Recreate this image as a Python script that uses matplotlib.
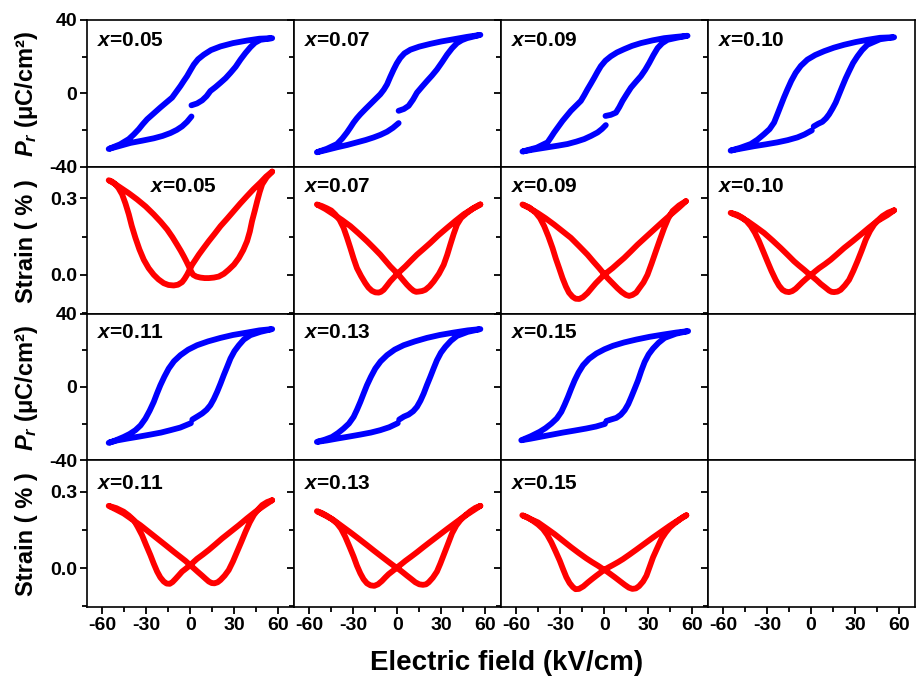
import matplotlib
matplotlib.use("Agg")
import matplotlib.pyplot as plt

plt.rcParams["font.family"] = ["Liberation Sans", "DejaVu Sans"]
plt.rcParams["font.weight"] = "bold"
plt.rcParams["axes.unicode_minus"] = False
plt.rcParams["mathtext.fontset"] = "custom"
plt.rcParams["mathtext.it"] = "Liberation Sans:italic:bold"
plt.rcParams["mathtext.rm"] = "Liberation Sans:bold"
plt.rcParams["mathtext.bf"] = "Liberation Sans:bold"

# compositions, in panel order
comps = ["0.05", "0.07", "0.09", "0.10", "0.11", "0.13", "0.15"]

# P-E loops (E in kV/cm, P in uC/cm2), traced from the break near E=0:
# rising branch -> +E tip -> falling branch -> -E tip -> back to E=0
pe_e_005 = [0.7, 4.5, 8.0, 11, 13.6, 17, 20.5, 24, 27.3, 30.8, 34.1, 37.5, 40.9, 44, 47.7, 55.7,
            47, 38.6, 29, 20.5, 14, 9.1, 5.2, 2.3, 0, -2.3, -4.6, -6.8, -9.7, -12.5, -16.5, -20.5, -25,
            -29.5, -32.5, -35.2, -38.5, -42.0, -48, -55.7,
            -48, -40.9, -33, -25.0, -19, -13.6, -9.3, -5.7, -2.3, 0.7]
pe_p_005 = [-6.5, -5.5, -3.8, -1.5, 1.3, 3.4, 5.8, 8.3, 11.2, 14.5, 18.4, 22.0, 25.2, 27.6, 29.2, 30.1,
            29.8, 28.8, 27.4, 25.6, 23.6, 21.1, 18.6, 15.7, 12.6, 9.4, 6.7, 4.0, 0.8, -2.3, -5.0, -7.7, -10.9,
            -14.1, -16.8, -19.5, -22.3, -24.9, -27.8, -30.3,
            -28.6, -27.0, -25.8, -24.5, -23.2, -21.6, -19.9, -18.0, -15.5, -12.6]

pe_e_007 = [0.9, 4.5, 7.7, 10.7, 13.4, 16.8, 20.2, 23.6, 27.0, 30.5, 33.9, 37.3, 40.7, 44, 47.5, 56.6,
            47.5, 38.4, 30, 22.5, 15, 8.9, 4.8, 2.0, -0.4, -2.5, -4.8, -7.0, -9.2, -11.6, -15, -18.4, -21.8,
            -25.2, -27.6, -29.8, -32, -34.3, -37.5, -41.1, -48, -54.8,
            -48, -41.1, -34, -27.5, -21.5, -16.1, -11.5, -7.0, -3, 0.9]
pe_p_007 = [-9.5, -8.5, -6.8, -3.4, 0.4, 3.6, 6.7, 9.7, 13.0, 17.0, 21.1, 24.6, 27.4, 29.0, 30.1, 31.9,
            30.8, 29.5, 28.3, 27.0, 25.5, 23.8, 21.8, 19.3, 16.3, 13.0, 9.0, 4.9, 2.0, -0.5, -3.2, -5.9, -8.6,
            -11.4, -13.6, -15.9, -18.6, -21.3, -24.6, -27.6, -30.2, -32.1,
            -30.8, -29.4, -28.1, -26.7, -25.4, -24.0, -22.6, -20.9, -18.8, -16.2]

pe_e_009 = [0.9, 4.5, 8.0, 10.3, 12.5, 15.3, 18.2, 21.5, 25.0, 28, 30.7, 33.5, 36.4, 39.5, 43.2, 50, 56.8,
            49, 40.9, 33, 25.0, 19, 13.6, 8.7, 4.5, 0.8, -2.3, -4.6, -6.8, -9.1, -11.4, -13.6, -15.9, -19.3,
            -22.7, -25.5, -28.4, -31.2, -34.1, -36.3, -38.6, -46, -55.7,
            -48, -38.6, -31.5, -25.0, -19, -13.6, -9, -4.5, -1.5, 1.1]
pe_p_009 = [-12.3, -11.7, -10.5, -7.5, -4.1, -0.5, 3.1, 6.2, 9.4, 12.9, 16.6, 20.8, 24.7, 27.3, 29.2, 30.4, 31.4,
            30.8, 30.1, 28.9, 27.4, 25.9, 24.1, 22.3, 20.2, 17.8, 14.8, 11.7, 8.5, 5.3, 2.2, -1.0, -4.1, -6.8,
            -9.5, -12.2, -15.0, -18.1, -21.3, -24.0, -26.7, -29.6, -31.7,
            -30.6, -29.4, -28.5, -27.6, -26.3, -24.9, -23.2, -21.3, -19.4, -17.3]

pe_e_010 = [1.8, 4.8, 7.7, 10.2, 12.3, 14.6, 16.8, 19.1, 21.4, 23.6, 25.9, 28.6, 31.6, 34.8, 38.4, 47, 56.6,
            47, 38.4, 30.5, 22.5, 15.5, 8.9, 2.8, -2.5, -7.0, -10.5, -13.5, -16.1, -18.5, -20.7, -23.0, -25.2,
            -28.3, -32.0, -36.5, -41.1, -48, -54.8,
            -47, -38.9, -31, -23.0, -16, -9.3, -4.5, 0.5]
pe_p_010 = [-18.0, -16.6, -15.5, -13.6, -11.4, -8.3, -5.0, -0.5, 4.0, 8.2, 12.1, 16.5, 20.2, 23.6, 26.5, 29.5, 30.6,
            30.3, 29.2, 28.0, 26.5, 24.9, 23.0, 20.9, 18.4, 15.0, 11.2, 6.8, 2.2, -2.3, -6.8, -11.5, -15.9,
            -19.5, -22.2, -25.2, -27.6, -29.6, -31.2,
            -30.0, -28.8, -27.8, -26.7, -25.5, -24.0, -22.4, -20.2]

pe_e_011 = [1.3, 5, 8.0, 11, 13.6, 15.9, 18.2, 20.5, 22.7, 25.0, 27.3, 30.0, 33.0, 36.4, 40.9, 47.7, 55.7,
            47, 38.6, 29, 20.5, 12, 4.5, -1.5, -6.8, -11.2, -14.8, -17.8, -20.5, -22.8, -25.0, -27.8, -30.7,
            -34.0, -37.5, -41.5, -45.5, -50.5, -55.7,
            -50, -43.2, -35, -27.3, -20, -13.6, -7, 0.3]
pe_p_011 = [-17.8, -16.0, -14.5, -12.5, -10.0, -6.7, -2.7, 1.8, 6.4, 10.9, 15.5, 19.5, 22.7, 25.8, 28.2, 30.0, 31.5,
            30.8, 29.6, 28.3, 26.7, 24.8, 22.7, 20.3, 17.3, 14.0, 10.0, 5.5, 0.9, -3.6, -8.2, -13.0, -17.3,
            -21.0, -23.6, -25.7, -27.3, -29.0, -30.5,
            -29.2, -28.2, -27.1, -26.0, -24.9, -23.6, -22.2, -19.8]

pe_e_013 = [1.3, 4.5, 7.7, 10.8, 13.4, 15.8, 18.0, 20.2, 22.5, 24.8, 27.0, 29.7, 32.7, 36.5, 40.7, 48, 56.6,
            48, 38.4, 29, 20.2, 12, 4.3, -1.8, -7.0, -11.4, -15.0, -18.0, -20.7, -23.0, -25.2, -27.5, -29.8,
            -33.0, -36.6, -40.5, -44.5, -49.5, -54.8,
            -48, -41.1, -33, -25.2, -18, -11.6, -5.5, 0.3]
pe_p_013 = [-17.8, -16.2, -15.1, -13.3, -10.9, -7.5, -3.6, 1.0, 5.5, 10.2, 14.5, 18.6, 21.8, 25.1, 27.8, 30.0, 31.5,
            30.8, 29.6, 28.3, 26.7, 24.8, 22.7, 20.3, 17.3, 13.9, 10.0, 5.5, 0.9, -3.7, -8.2, -12.5, -16.4,
            -20.0, -22.7, -25.2, -27.3, -28.8, -30.0,
            -29.2, -28.2, -27.1, -26.0, -24.9, -23.6, -22.0, -19.8]

pe_e_015 = [1.5, 5, 8.3, 11.3, 14.0, 16.4, 18.5, 20.8, 23.1, 25.3, 27.6, 30.3, 33.3, 37, 41.2, 49, 57.2,
            49, 40.1, 31, 21.9, 13.5, 6.0, 0.2, -5.3, -10.3, -14.4, -17.5, -20.1, -22.5, -24.7, -27.0, -29.2,
            -32.3, -36.0, -40, -44.0, -50, -56.5,
            -50.5, -44.0, -36, -28.1, -20, -12.2, -5.5, 0.5]
pe_p_015 = [-18.6, -17.7, -16.9, -15.2, -12.7, -9.4, -5.5, -1.0, 3.6, 8.8, 13.6, 17.7, 20.9, 24.0, 26.7, 29.0, 30.4,
            29.6, 28.5, 27.3, 25.8, 24.2, 22.4, 20.5, 18.2, 15.3, 11.8, 7.8, 3.6, -1.0, -5.5, -9.8, -13.6,
            -17.2, -20.0, -22.5, -24.5, -26.9, -29.1,
            -28.3, -27.3, -26.1, -24.9, -23.8, -22.7, -21.6, -20.2]

# strain loops (E in kV/cm, strain in %), traced from the +E tip
s_e_005 = [55.7, 51.5, 47.7, 43, 38.6, 34, 29.5, 25, 20.5, 16.5, 12.5, 9, 5.7, 3.3, 1.1, -0.7, -2.3, -4,
           -5.7, -8.5, -11.4, -15, -18.2, -21.8, -25.0, -28.5, -31.8, -34.8, -37.5, -40, -42.0, -44.3, -46.6,
           -49, -51.1, -53.5, -55.7, -51.8, -47.7, -42, -36.4, -30.5, -25.0, -20.3, -15.9, -12.3, -9.1, -6.6,
           -4.5, -2.7, -1.1, 0.3, 1.8, 4, 6.8, 9.7, 12.5, 16, 19.3, 22.8, 26.1, 29.7, 33.0, 36, 38.6, 40.5,
           42.0, 43.8, 45.5, 47.2, 48.9, 52, 55.7]
s_v_005 = [.405, .385, .362, .336, .309, .280, .250, .220, .191, .161, .132, .105, .079, .058, .039, .018, .000,
           -.016, -.029, -.039, -.042, -.040, -.033, -.018, .000, .026, .059, .100, .145, .192, .237, .280,
           .316, .340, .355, .366, .371, .358, .342, .320, .296, .268, .237, .208, .178, .148, .118, .094,
           .072, .052, .033, .015, .000, -.007, -.011, -.013, -.013, -.011, -.007, .004, .020, .040, .066,
           .097, .132, .170, .211, .250, .289, .325, .355, .383, .405]

s_e_007 = [56.6, 51, 45.2, 39.5, 33.9, 28, 22.5, 18, 13.4, 9.4, 5.5, 2.7, 0.0, -2.4, -4.8, -7.2, -9.3, -11.2,
           -12.7, -15, -17.3, -19.7, -21.8, -24.7, -27.5, -29.8, -32.0, -34.3, -36.6, -39.3, -42.3, -45, -48.0,
           -51.5, -54.8, -49, -43.4, -37.7, -32.0, -26.3, -20.7, -16, -11.6, -8.2, -4.8, -1.9, 0.9, 3.8, 6.6,
           9, 11.1, 12.8, 14.5, 16.8, 19.1, 22, 24.8, 28.4, 31.6, 34, 36.1, 38.4, 40.7, 43.5, 47.5, 52, 56.6]
s_v_007 = [.276, .258, .237, .211, .184, .155, .125, .102, .079, .056, .033, .018, .003, -.011, -.026, -.044,
           -.059, -.067, -.070, -.069, -.063, -.050, -.033, -.005, .026, .064, .105, .146, .184, .215, .237,
           .252, .261, .270, .276, .258, .237, .215, .191, .162, .132, .105, .079, .056, .033, .016, .000,
           -.020, -.039, -.053, -.063, -.067, -.066, -.064, -.059, -.045, -.026, .004, .039, .078, .118, .160,
           .197, .223, .243, .262, .276]

s_e_009 = [55.7, 51, 45.5, 39.8, 34.1, 28.4, 22.7, 18.2, 13.6, 9.6, 5.7, 2.8, 0, -2.8, -5.7, -8.5, -11.4,
           -14.5, -17.0, -19.5, -21.6, -24, -26.1, -28.4, -30.7, -33, -35.2, -38, -40.9, -43.7, -46.6, -51,
           -55.7, -51, -45.5, -40, -34.1, -28.4, -22.7, -17, -11.4, -7.4, -3.4, -0.5, 2.3, 5.7, 9.1, 12, 14.8,
           17, 19.3, 21.8, 23.9, 26.8, 29.5, 32.3, 35.2, 38, 40.9, 43.7, 46.6, 51, 55.7]
s_v_009 = [.289, .264, .237, .208, .178, .148, .118, .092, .066, .046, .026, .013, 0, -.016, -.033, -.052,
           -.072, -.088, -.095, -.094, -.086, -.070, -.046, -.013, .026, .064, .105, .150, .191, .222, .243,
           .264, .276, .262, .243, .222, .197, .171, .145, .112, .079, .052, .026, .006, -.013, -.033, -.053,
           -.068, -.079, -.083, -.079, -.070, -.053, -.030, .000, .044, .092, .138, .184, .222, .250, .272,
           .289]

s_e_010 = [56.6, 52, 45.2, 39.5, 33.9, 28.2, 22.5, 18, 13.4, 9.5, 5.5, 2.7, 0, -3, -5.9, -8.2, -10.5, -12.8,
           -15.0, -17.3, -19.5, -21.8, -24.1, -27, -29.8, -32.6, -35.5, -38.3, -41.1, -43.9, -46.8, -50.5,
           -54.8, -49, -43.4, -37.7, -32.0, -26.3, -20.7, -16.1, -11.6, -8.2, -4.8, -2, 0.9, 3.8, 6.6, 9.5,
           12.3, 14, 15.7, 18, 20.2, 23, 25.9, 28.8, 31.6, 34.5, 37.3, 40.2, 43.0, 45.8, 48.6, 52.5, 56.6]
s_v_010 = [.253, .234, .211, .185, .158, .131, .105, .082, .059, .042, .026, .013, 0, -.014, -.029, -.042,
           -.055, -.064, -.068, -.066, -.059, -.043, -.020, .015, .053, .092, .132, .165, .191, .210, .224,
           .236, .243, .229, .211, .188, .164, .135, .105, .079, .053, .036, .020, .006, -.007, -.021, -.036,
           -.049, -.062, -.067, -.068, -.066, -.059, -.042, -.020, .015, .053, .095, .138, .172, .197, .215,
           .230, .244, .253]

s_e_011 = [55.7, 50, 44.3, 38.6, 33.0, 27.3, 21.6, 17, 12.5, 8.5, 4.5, 2.2, 0, -2.8, -5.7, -8, -10.2, -12.2,
           -14.1, -16.2, -18.2, -20.5, -22.7, -25, -27.3, -30.2, -33.0, -36, -38.6, -42, -45.5, -50.5, -55.7,
           -50.5, -45.5, -39.8, -34.1, -28.4, -22.7, -17, -11.4, -7.4, -3.4, -0.5, 2.3, 5.2, 8.0, 10.3, 12.5,
           14.5, 16.4, 18.5, 20.5, 23.3, 26.1, 29, 31.8, 34.7, 37.5, 40.4, 43.2, 46, 48.9, 52.3, 55.7]
s_v_011 = [.267, .245, .222, .196, .169, .143, .117, .094, .072, .054, .037, .025, .013, .000, -.013, -.028,
           -.042, -.054, -.061, -.060, -.052, -.036, -.013, .018, .052, .091, .130, .163, .189, .207, .222,
           .236, .245, .230, .215, .192, .169, .143, .117, .091, .065, .047, .029, .014, .000, -.015, -.029,
           -.041, -.052, -.058, -.059, -.055, -.046, -.029, -.007, .027, .065, .104, .143, .180, .209, .230,
           .248, .260, .267]

s_e_013 = [56.6, 51, 45.2, 39.5, 33.9, 28.2, 22.5, 18, 13.4, 9.5, 5.5, 2.7, 0, -3, -5.9, -8.2, -10.5, -13.2,
           -15.7, -18.3, -20.7, -23, -25.2, -27.5, -29.8, -32.6, -35.5, -38.3, -41.1, -44.5, -48.0, -51.5,
           -54.8, -49, -43.4, -37.7, -32.0, -26.3, -20.7, -16.1, -11.6, -8.2, -4.8, -2, 0.9, 3.8, 6.6, 9.5,
           12.3, 15, 17.5, 19.6, 21.4, 24.2, 27.0, 29.3, 31.6, 34.5, 37.3, 40.2, 43.0, 46.4, 49.8, 53.2, 56.6]
s_v_013 = [.245, .224, .202, .178, .154, .129, .104, .084, .063, .046, .029, .016, .004, -.010, -.023, -.036,
           -.050, -.063, -.069, -.067, -.059, -.043, -.020, .010, .046, .085, .124, .155, .176, .193, .206,
           .217, .224, .207, .189, .165, .141, .116, .091, .070, .050, .035, .020, .008, -.003, -.016, -.029,
           -.042, -.055, -.063, -.065, -.063, -.055, -.037, -.013, .018, .052, .095, .137, .168, .189, .208,
           .224, .237, .245]

s_e_015 = [56.0, 50.3, 44.7, 39, 33.3, 27.6, 21.9, 17.3, 12.8, 9.4, 6.0, 3.1, 0.3, -2.5, -5.3, -8.2, -11.0,
           -14.2, -17.2, -19.5, -21.3, -23.6, -25.8, -28, -30.3, -33.1, -36.0, -38.8, -41.7, -45.1, -48.5,
           -52.3, -55.8, -50.5, -45.1, -39.4, -33.8, -28.1, -22.4, -17.3, -12.2, -8.2, -4.2, -1.6, 1.0, 4.1,
           7.2, 10.6, 14.0, 16.8, 19.2, 21.6, 23.8, 26.5, 28.8, 31, 33.3, 36.2, 39.0, 41.9, 44.7, 47.5, 50.3,
           53.2, 56.0]
s_v_015 = [.208, .188, .167, .144, .121, .097, .073, .054, .036, .024, .013, .004, -.005, -.017, -.029, -.042,
           -.055, -.071, -.081, -.082, -.074, -.058, -.035, -.004, .030, .066, .102, .131, .154, .172, .186,
           .200, .208, .194, .180, .157, .134, .108, .082, .060, .039, .024, .010, .000, -.009, -.022, -.035,
           -.050, -.065, -.076, -.081, -.079, -.070, -.052, -.029, .006, .043, .080, .115, .140, .160, .174,
           .186, .199, .208]

pe_loops = [(pe_e_005, pe_p_005), (pe_e_007, pe_p_007), (pe_e_009, pe_p_009), (pe_e_010, pe_p_010),
            (pe_e_011, pe_p_011), (pe_e_013, pe_p_013), (pe_e_015, pe_p_015)]
strain_loops = [(s_e_005, s_v_005), (s_e_007, s_v_007), (s_e_009, s_v_009), (s_e_010, s_v_010),
                (s_e_011, s_v_011), (s_e_013, s_v_013), (s_e_015, s_v_015)]

BLUE = "#0000ff"
RED = "#ff0000"
W, H = 916, 679

fig, axes = plt.subplots(4, 4, figsize=(W / 100, H / 100), dpi=100,
                         gridspec_kw=dict(left=87 / W, right=914.5 / W, top=1 - 20 / H,
                                          bottom=1 - 607 / H, wspace=0, hspace=0))

for r in range(4):
    is_pe = r % 2 == 0
    for c in range(4):
        ax = axes[r, c]
        k = (r // 2) * 4 + c
        ax.set_xlim(-70.5, 70.5)
        ax.set_xticks([-60, -30, 0, 30, 60])
        ax.set_xticks([-45, -15, 15, 45], minor=True)
        if is_pe:
            ax.set_ylim(-40, 40)
            ax.set_yticks([-40, 0, 40])
            ax.set_yticks([-20, 20], minor=True)
        else:
            ax.set_ylim(-0.152, 0.424)
            ax.set_yticks([0.0, 0.3])
            ax.set_yticklabels(["0.0", "0.3"])
            ax.set_yticks([-0.15, 0.15], minor=True)
        ax.tick_params(which="major", direction="out", length=5, width=1.3, labelsize=14,
                       pad=2, labelbottom=(r == 3), labelleft=(c == 0))
        ax.tick_params(which="minor", direction="out", length=3.5, width=1.3)
        for sp in ax.spines.values():
            sp.set_linewidth(1.2)

        if k >= len(comps):
            continue
        if is_pe:
            e, p = pe_loops[k]
            ax.plot(e, p, color=BLUE, lw=4.2, solid_capstyle="round", solid_joinstyle="round")
        else:
            e, s = strain_loops[k]
            ax.plot(e, s, color=RED, lw=4.2, solid_capstyle="round", solid_joinstyle="round")
        tx = 0.305 if (r == 1 and c == 0) else 0.05
        ty = [0.86, 0.865, 0.87, 0.84][r]
        ax.text(tx, ty, "$x$=" + comps[k], transform=ax.transAxes, ha="left", va="center",
                fontsize=15, fontweight="bold")

row_mid = [(20 + 168) / 2, (168 + 315) / 2, (315 + 461) / 2, (461 + 607) / 2]
for r in range(4):
    label = "$P_r$ (μC/cm²)" if r % 2 == 0 else "Strain ( % )"
    fig.text(27 / W, 1 - row_mid[r] / H, label, rotation=90, ha="center", va="center",
             fontsize=17, fontweight="bold")

fig.text(507 / W, 1 - 663 / H, "Electric field (kV/cm)", ha="center", va="center",
         fontsize=20, fontweight="bold")

fig.savefig("out.png", dpi=100)
